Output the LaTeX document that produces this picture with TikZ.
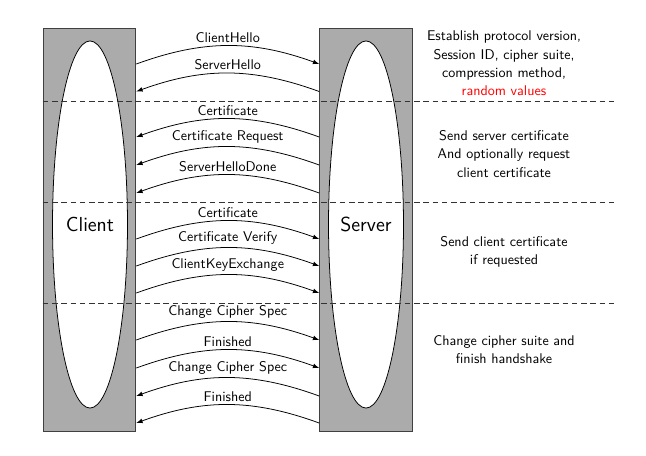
\documentclass[tikz,border=0pt]{standalone}
\usetikzlibrary{shapes.geometric}
\begin{document}
\begin{tikzpicture}
	[x=0.711pt,y=0.711pt,
	every node/.style={font=\sffamily},
	host/.style={draw=black!75,line width=0.6pt,fill=black!33,minimum width=66pt,minimum height=287pt,inner sep=0pt},
	hostin/.style={draw,line width=0.55pt,fill=white,ellipse,minimum width=53.3pt,minimum height=261pt,inner sep=0pt,font=\sffamily\Large},
	msg/.style={-latex,line width=0.55pt},
	msglabel/.style={above,inner sep=2pt},
	sep/.style={dash pattern=on 4pt off 2.6pt,black!80,line width=0.5pt},
	note/.style={align=center,font=\sffamily\fontsize{10pt}{13pt}\selectfont}
	]
	\useasboundingbox (0,0) rectangle (646,455);
	\node[host] (C) at (89.5,225) {};
	\node[host] (S) at (366,225) {};
	\node[hostin] (Cin) at (90,230.5) {Client};
	\node[hostin] (Sin) at (366,230.5) {Server};
	\coordinate (sepA) at (614,353.3);
	\coordinate (sepB) at (614,252.3);
	\coordinate (sepC) at (614,152);
	\draw[sep] (C.west |- sepA) -- (sepA);
	\draw[sep] (C.west |- sepB) -- (sepB);
	\draw[sep] (C.west |- sepC) -- (sepC);
	\draw[msg] (C.east |- 0,391) to[bend left=20] node[msglabel]{ClientHello} (S.west |- 0,391);
	\draw[msg] (S.west |- 0,363.5) to[bend right=20] node[msglabel]{ServerHello} (C.east |- 0,363.5);
	\draw[msg] (S.west |- 0,318) to[bend right=20] node[msglabel]{Certificate} (C.east |- 0,318);
	\draw[msg] (S.west |- 0,290) to[bend right=20] node[msglabel]{Certificate Request} (C.east |- 0,290);
	\draw[msg] (S.west |- 0,262) to[bend right=20] node[msglabel]{ServerHelloDone} (C.east |- 0,262);
	\draw[msg] (C.east |- 0,216) to[bend left=20] node[msglabel]{Certificate} (S.west |- 0,216);
	\draw[msg] (C.east |- 0,189) to[bend left=20] node[msglabel]{Certificate Verify} (S.west |- 0,189);
	\draw[msg] (C.east |- 0,162) to[bend left=20] node[msglabel]{ClientKeyExchange} (S.west |- 0,162);
	\draw[msg] (C.east |- 0,115) to[bend left=20] node[msglabel]{Change Cipher Spec} (S.west |- 0,115);
	\draw[msg] (C.east |- 0,87) to[bend left=20] node[msglabel]{Finished} (S.west |- 0,87);
	\draw[msg] (S.west |- 0,59) to[bend right=20] node[msglabel]{Change Cipher Spec} (C.east |- 0,59);
	\draw[msg] (S.west |- 0,32) to[bend right=20] node[msglabel]{Finished} (C.east |- 0,32);
	\node[note] (noteA) at (504,391.6) {Establish protocol version,\\Session ID, cipher suite,\\compression method,\\\textcolor{red}{random values}};
	\node[note] (noteB) at (504,301) {Send server certificate\\And optionally request\\client certificate};
	\node[note] (noteC) at (504,203.5) {Send client certificate\\if requested};
	\node[note] (noteD) at (504,105.5) {Change cipher suite and\\finish handshake};
\end{tikzpicture}
\end{document}
